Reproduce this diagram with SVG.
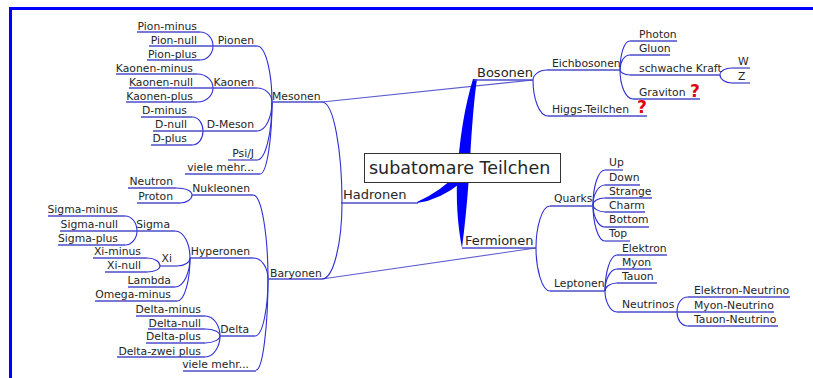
<svg xmlns="http://www.w3.org/2000/svg" width="813" height="378" viewBox="0 0 813 378">
<style>
text{font-family:"DejaVu Sans","Liberation Sans",sans-serif;font-size:10.8px;fill:#262626}
.l{text-anchor:end}
.m{font-size:13px}
.u{stroke:#4b4bc8;stroke-width:1.3;fill:none}
#connectors path{stroke:#2f2fd6;stroke-width:1.1;fill:none}
#connectors .x{stroke:#5c5cd0;stroke-width:1.1}
.q{fill:#e00010;font-weight:bold;font-size:17px}
</style>
<rect x="0" y="0" width="813" height="378" fill="#fff"/>
<rect x="9" y="7" width="804" height="3" fill="#0000ff"/>
<rect x="9" y="7" width="3" height="371" fill="#0000ff"/>

<g id="connectors">
<path class="x" d="M322,102 L533,80"/>
<path class="x" d="M322,279 L536,248"/>
<path d="M257,46 C266,46 272,74 272,102"/>
<path d="M257,88 C266,88 272,95 272,102"/>
<path d="M257,131 C266,131 272,116.5 272,102"/>
<path d="M257,160 C266,160 272,131 272,102"/>
<path d="M260,174 C267,174 272,138 272,102"/>
<path d="M200,32 C208,32 213,39 213,46"/>
<path d="M200,60 C208,60 213,53 213,46"/>
<path d="M197,74 C207,74 213,81 213,88"/>
<path d="M197,102 C207,102 213,95 213,88"/>
<path d="M192,117 C199,117 203,124 203,131"/>
<path d="M192,145 C199,145 203,138 203,131"/>
<path d="M322,102 C334,102 342,152 342,203"/>
<path d="M322,279 C334,279 342,241 342,203"/>
<path d="M253,195 C262,195 268,237 268,279"/>
<path d="M253,258 C262,258 268,268 268,279"/>
<path d="M255,336 C263,336 268,307 268,279"/>
<path d="M256,370 C263,370 268,324 268,279"/>
<path d="M176,188 C186,188 192,191 192,195"/>
<path d="M180,203 C187,203 192,199 192,195"/>
<path d="M175,231 C184,231 190,244 190,258"/>
<path d="M177,266 C185,266 190,262 190,258"/>
<path d="M175,287 C184,287 190,272 190,258"/>
<path d="M177,301 C185,301 190,279 190,258"/>
<path d="M125,216 C132,216 137,223 137,231"/>
<path d="M125,245 C132,245 137,238 137,231"/>
<path d="M147,258 C155,258 160,262 160,266"/>
<path d="M147,272 C155,272 160,269 160,266"/>
<path d="M205,316 C214,316 220,326 220,336"/>
<path d="M205,329 C214,329 220,332 220,336"/>
<path d="M205,343 C214,343 220,339 220,336"/>
<path d="M205,357 C214,357 220,346 220,336"/>
<path d="M547,70 C539,70 533,75 533,80"/>
<path d="M548,116 C539,116 533,98 533,80"/>
<path d="M630,41 C624,41 620,55 620,70"/>
<path d="M630,55 C624,55 620,62 620,70"/>
<path d="M630,75 C624,75 620,72 620,70"/>
<path d="M633,99 C625,99 620,84 620,70"/>
<path d="M732,68 C725,68 720,71 720,75"/>
<path d="M732,83 C725,83 720,79 720,75"/>
<path d="M550,206 C542,206 536,227 536,248"/>
<path d="M550,291 C542,291 536,269 536,248"/>
<path d="M605,170 C598,170 593,187 593,205"/>
<path d="M605,185 C598,185 593,195 593,205"/>
<path d="M605,198 C598,198 593,201 593,205"/>
<path d="M605,212 C598,212 593,208 593,205"/>
<path d="M605,227 C598,227 593,216 593,205"/>
<path d="M605,241 C598,241 593,223 593,205"/>
<path d="M617,255 C610,255 605,273 605,291"/>
<path d="M617,269 C610,269 605,280 605,291"/>
<path d="M617,283 C610,283 605,287 605,291"/>
<path d="M617,312 C610,312 605,301 605,291"/>
<path d="M688,297 C681,297 677,304 677,312"/>
<path d="M688,326 C681,326 677,319 677,312"/>
</g>

<g id="spine">
<path d="M473,79 C465,105 459,140 457,180 C456,210 459,232 462,248 C465,225 468,195 470,160 C472,125 474,100 477,79 Z" fill="#0000ff"/>
<path d="M417,202 Q440,192 462,170 L462,182 Q440,200 417,203 Z" fill="#0000ff"/>
</g>

<g id="root">
<rect x="364.5" y="153.5" width="196" height="29" fill="#fff" stroke="#333" stroke-width="1"/>
<text x="369" y="174" style="font-size:17.5px">subatomare Teilchen</text>
</g>

<g id="hadronen"><line class="u" x1="341" y1="203" x2="418" y2="203"/><text class="m" x="343" y="199">Hadronen</text></g>
<g id="bosonen"><line class="u" x1="474" y1="80" x2="533" y2="80"/><text class="m" x="477" y="77">Bosonen</text></g>
<g id="fermionen"><line class="u" x1="462" y1="248" x2="536" y2="248"/><text class="m" x="465" y="245">Fermionen</text></g>

<g id="mesonen"><line class="u" x1="272" y1="102" x2="322" y2="102"/><text x="272" y="100">Mesonen</text></g>
<g id="pionen"><line class="u" x1="213" y1="46" x2="257" y2="46"/><text class="l" x="254" y="44">Pionen</text></g>
<g id="pion-minus"><line class="u" x1="137" y1="32" x2="200" y2="32"/><text class="l" x="197" y="30">Pion-minus</text></g>
<g id="pion-null"><line class="u" x1="149" y1="46" x2="213" y2="46"/><text class="l" x="197" y="44">Pion-null</text></g>
<g id="pion-plus"><line class="u" x1="147" y1="60" x2="200" y2="60"/><text class="l" x="197" y="58">Pion-plus</text></g>
<g id="kaonen"><line class="u" x1="213" y1="88" x2="257" y2="88"/><text class="l" x="254" y="86">Kaonen</text></g>
<g id="kaonen-minus"><line class="u" x1="116" y1="74" x2="197" y2="74"/><text class="l" x="193" y="72">Kaonen-minus</text></g>
<g id="kaonen-null"><line class="u" x1="129" y1="88" x2="213" y2="88"/><text class="l" x="193" y="86">Kaonen-null</text></g>
<g id="kaonen-plus"><line class="u" x1="126" y1="102" x2="197" y2="102"/><text class="l" x="193" y="100">Kaonen-plus</text></g>
<g id="d-meson"><line class="u" x1="203" y1="131" x2="257" y2="131"/><text class="l" x="254" y="128">D-Meson</text></g>
<g id="d-minus"><line class="u" x1="141" y1="117" x2="192" y2="117"/><text class="l" x="187" y="114">D-minus</text></g>
<g id="d-null"><line class="u" x1="153" y1="131" x2="203" y2="131"/><text class="l" x="187" y="128">D-null</text></g>
<g id="d-plus"><line class="u" x1="151" y1="145" x2="192" y2="145"/><text class="l" x="187" y="142">D-plus</text></g>
<g id="psi-j"><line class="u" x1="228" y1="160" x2="257" y2="160"/><text class="l" x="254" y="157">Psi/J</text></g>
<g id="viele-mehr-1"><line class="u" x1="185" y1="174" x2="260" y2="174"/><text class="l" x="254" y="171">viele mehr...</text></g>

<g id="baryonen"><line class="u" x1="268" y1="279" x2="322" y2="279"/><text x="270" y="277">Baryonen</text></g>
<g id="nukleonen"><line class="u" x1="192" y1="195" x2="253" y2="195"/><text class="l" x="250" y="192">Nukleonen</text></g>
<g id="neutron"><line class="u" x1="128" y1="188" x2="176" y2="188"/><text class="l" x="173" y="185">Neutron</text></g>
<g id="proton"><line class="u" x1="137" y1="203" x2="180" y2="203"/><text class="l" x="173" y="200">Proton</text></g>
<g id="hyperonen"><line class="u" x1="190" y1="258" x2="253" y2="258"/><text class="l" x="250" y="255">Hyperonen</text></g>
<g id="sigma"><line class="u" x1="137" y1="231" x2="175" y2="231"/><text class="l" x="170" y="228">Sigma</text></g>
<g id="sigma-minus"><line class="u" x1="48" y1="216" x2="125" y2="216"/><text class="l" x="118" y="213">Sigma-minus</text></g>
<g id="sigma-null"><line class="u" x1="60" y1="231" x2="137" y2="231"/><text class="l" x="118" y="228">Sigma-null</text></g>
<g id="sigma-plus"><line class="u" x1="58" y1="245" x2="125" y2="245"/><text class="l" x="118" y="242">Sigma-plus</text></g>
<g id="xi"><line class="u" x1="160" y1="266" x2="177" y2="266"/><text class="l" x="172" y="262">Xi</text></g>
<g id="xi-minus"><line class="u" x1="93" y1="258" x2="147" y2="258"/><text class="l" x="141" y="255">Xi-minus</text></g>
<g id="xi-null"><line class="u" x1="105" y1="272" x2="147" y2="272"/><text class="l" x="141" y="269">Xi-null</text></g>
<g id="lambda"><line class="u" x1="128" y1="287" x2="175" y2="287"/><text class="l" x="171" y="284">Lambda</text></g>
<g id="omega-minus"><line class="u" x1="95" y1="301" x2="177" y2="301"/><text class="l" x="171" y="298">Omega-minus</text></g>
<g id="delta"><line class="u" x1="220" y1="336" x2="255" y2="336"/><text class="l" x="249" y="333">Delta</text></g>
<g id="delta-minus"><line class="u" x1="136" y1="316" x2="205" y2="316"/><text class="l" x="201" y="313">Delta-minus</text></g>
<g id="delta-null"><line class="u" x1="148" y1="329" x2="205" y2="329"/><text class="l" x="201" y="327">Delta-null</text></g>
<g id="delta-plus"><line class="u" x1="146" y1="343" x2="205" y2="343"/><text class="l" x="201" y="340">Delta-plus</text></g>
<g id="delta-zwei-plus"><line class="u" x1="117" y1="357" x2="205" y2="357"/><text class="l" x="201" y="355">Delta-zwei plus</text></g>
<g id="viele-mehr-2"><line class="u" x1="183" y1="371" x2="256" y2="371"/><text class="l" x="249" y="368">viele mehr...</text></g>

<g id="eichbosonen"><line class="u" x1="547" y1="70" x2="620" y2="70"/><text x="552" y="67">Eichbosonen</text></g>
<g id="photon"><line class="u" x1="630" y1="41" x2="677" y2="41"/><text x="639" y="38">Photon</text></g>
<g id="gluon"><line class="u" x1="630" y1="55" x2="670" y2="55"/><text x="639" y="52">Gluon</text></g>
<g id="schwache-kraft"><line class="u" x1="630" y1="75" x2="720" y2="75"/><text x="639" y="72">schwache Kraft</text></g>
<g id="w"><line class="u" x1="732" y1="68" x2="750" y2="68"/><text x="738" y="65">W</text></g>
<g id="z"><line class="u" x1="732" y1="83" x2="750" y2="83"/><text x="738" y="80">Z</text></g>
<g id="graviton"><line class="u" x1="633" y1="99" x2="700" y2="99"/><text x="639" y="96">Graviton</text><text class="q" x="690" y="97">?</text></g>
<g id="higgs"><line class="u" x1="548" y1="116" x2="647" y2="116"/><text x="552" y="113">Higgs-Teilchen</text><text class="q" x="637" y="113">?</text></g>

<g id="quarks"><line class="u" x1="550" y1="206" x2="593" y2="206"/><text x="554" y="202">Quarks</text></g>
<g id="up"><line class="u" x1="605" y1="170" x2="623" y2="170"/><text x="609" y="166">Up</text></g>
<g id="down"><line class="u" x1="605" y1="185" x2="640" y2="185"/><text x="609" y="181">Down</text></g>
<g id="strange"><line class="u" x1="605" y1="198" x2="652" y2="198"/><text x="609" y="195">Strange</text></g>
<g id="charm"><line class="u" x1="605" y1="212" x2="645" y2="212"/><text x="609" y="209">Charm</text></g>
<g id="bottom"><line class="u" x1="605" y1="227" x2="649" y2="227"/><text x="609" y="223">Bottom</text></g>
<g id="top"><line class="u" x1="605" y1="241" x2="630" y2="241"/><text x="609" y="237">Top</text></g>
<g id="leptonen"><line class="u" x1="550" y1="291" x2="605" y2="291"/><text x="554" y="287">Leptonen</text></g>
<g id="elektron"><line class="u" x1="617" y1="255" x2="667" y2="255"/><text x="622" y="252">Elektron</text></g>
<g id="myon"><line class="u" x1="617" y1="269" x2="652" y2="269"/><text x="622" y="266">Myon</text></g>
<g id="tauon"><line class="u" x1="617" y1="283" x2="657" y2="283"/><text x="622" y="280">Tauon</text></g>
<g id="neutrinos"><line class="u" x1="617" y1="312" x2="677" y2="312"/><text x="622" y="308">Neutrinos</text></g>
<g id="elektron-neutrino"><line class="u" x1="688" y1="297" x2="790" y2="297"/><text x="694" y="294">Elektron-Neutrino</text></g>
<g id="myon-neutrino"><line class="u" x1="677" y1="312" x2="774" y2="312"/><text x="694" y="309">Myon-Neutrino</text></g>
<g id="tauon-neutrino"><line class="u" x1="688" y1="326" x2="778" y2="326"/><text x="694" y="323">Tauon-Neutrino</text></g>
</svg>
